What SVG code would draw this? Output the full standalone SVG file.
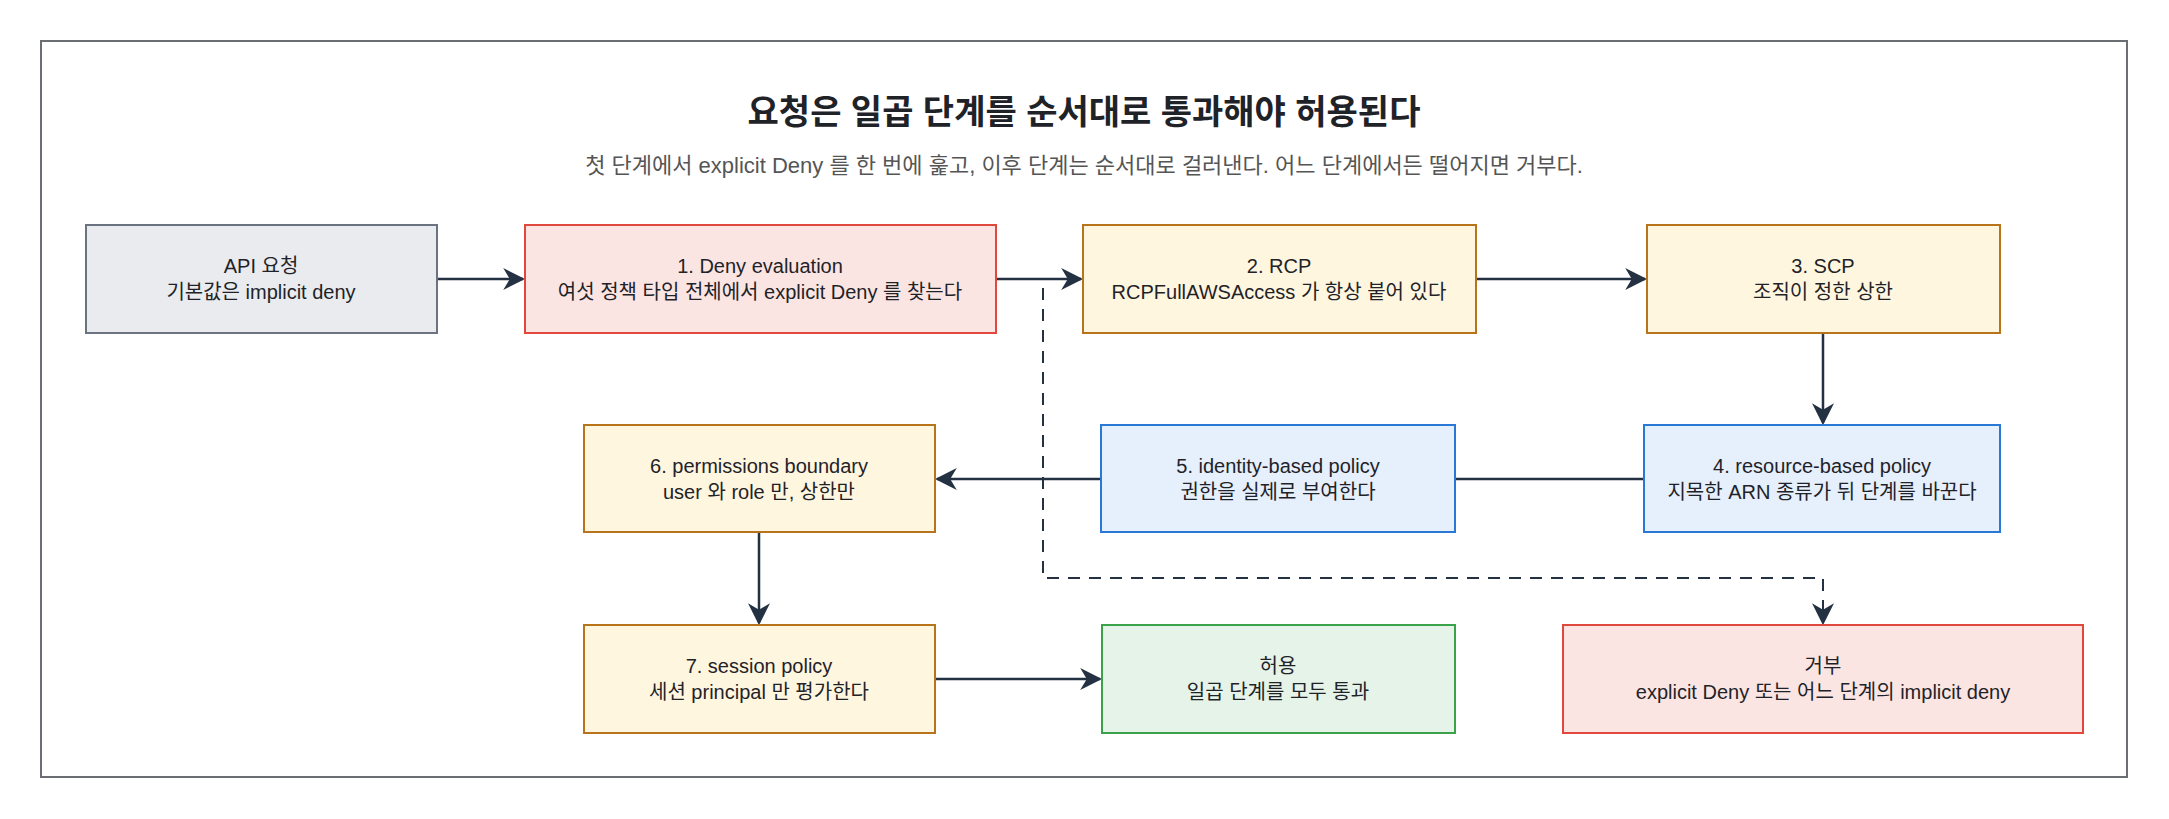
<svg xmlns="http://www.w3.org/2000/svg" width="2169" height="819" viewBox="0 0 2169 819">
<style>
text{font-family:"Liberation Sans","Noto Sans CJK KR",sans-serif;fill:#1f2328;text-anchor:middle}
.t{font-size:20px}
.g rect{fill:#e9ebef;stroke:#6b7280;stroke-width:2}
.r rect{fill:#fbe5e3;stroke:#e0483e;stroke-width:2}
.y rect{fill:#fff6e0;stroke:#b8741a;stroke-width:2}
.b rect{fill:#e6effc;stroke:#2a78d6;stroke-width:2}
.gr rect{fill:#e6f3e8;stroke:#3aa34a;stroke-width:2}
.e{fill:none;stroke:#233142;stroke-width:2.5}
.d{fill:none;stroke:#233142;stroke-width:2;stroke-dasharray:12 9}
</style>
<defs><marker id="a" viewBox="0 0 10 10" refX="9" refY="5" markerWidth="9" markerHeight="9" markerUnits="userSpaceOnUse" orient="auto"><path d="M0 0L10 5L0 10L3 5z" fill="#233142"/></marker>
<marker id="A" viewBox="0 0 10 10" refX="9" refY="5" markerWidth="22" markerHeight="22" markerUnits="userSpaceOnUse" orient="auto"><path d="M0 0L10 5L0 10L3 5z" fill="#233142"/></marker></defs>
<rect x="41" y="41" width="2086" height="736" fill="#fff" stroke="#6b6f73" stroke-width="2"/>
<text x="1084" y="124" font-size="34" font-weight="bold">요청은 일곱 단계를 순서대로 통과해야 허용된다</text>
<text x="1084" y="173" font-size="22" style="fill:#555">첫 단계에서 explicit Deny 를 한 번에 훑고, 이후 단계는 순서대로 걸러낸다. 어느 단계에서든 떨어지면 거부다.</text>
<g id="connectors">
<path class="e" d="M437 279H523" marker-end="url(#A)"/>
<path class="e" d="M996 279H1081" marker-end="url(#A)"/>
<path class="e" d="M1476 279H1645" marker-end="url(#A)"/>
<path class="e" d="M1823 333V423" marker-end="url(#A)"/>
<path class="e" d="M1644 479H937" marker-end="url(#A)"/>
<path class="e" d="M759 532V623" marker-end="url(#A)"/>
<path class="e" d="M935 679H1100" marker-end="url(#A)"/>
<path class="d" d="M1043 288V578H1823V623" marker-end="url(#A)"/>
</g>
<g id="api" class="g"><rect x="86" y="225" width="351" height="108"/><text class="t" x="261" y="273">API 요청</text><text class="t" x="261" y="299">기본값은 implicit deny</text></g>
<g id="s1" class="r"><rect x="525" y="225" width="471" height="108"/><text class="t" x="760" y="273">1. Deny evaluation</text><text class="t" x="760" y="299">여섯 정책 타입 전체에서 explicit Deny 를 찾는다</text></g>
<g id="s2" class="y"><rect x="1083" y="225" width="393" height="108"/><text class="t" x="1279" y="273">2. RCP</text><text class="t" x="1279" y="299">RCPFullAWSAccess 가 항상 붙어 있다</text></g>
<g id="s3" class="y"><rect x="1647" y="225" width="353" height="108"/><text class="t" x="1823" y="273">3. SCP</text><text class="t" x="1823" y="299">조직이 정한 상한</text></g>
<g id="s4" class="b"><rect x="1644" y="425" width="356" height="107"/><text class="t" x="1822" y="473">4. resource-based policy</text><text class="t" x="1822" y="499">지목한 ARN 종류가 뒤 단계를 바꾼다</text></g>
<g id="s5" class="b"><rect x="1101" y="425" width="354" height="107"/><text class="t" x="1278" y="473">5. identity-based policy</text><text class="t" x="1278" y="499">권한을 실제로 부여한다</text></g>
<g id="s6" class="y"><rect x="584" y="425" width="351" height="107"/><text class="t" x="759" y="473">6. permissions boundary</text><text class="t" x="759" y="499">user 와 role 만, 상한만</text></g>
<g id="s7" class="y"><rect x="584" y="625" width="351" height="108"/><text class="t" x="759" y="673">7. session policy</text><text class="t" x="759" y="699">세션 principal 만 평가한다</text></g>
<g id="allow" class="gr"><rect x="1102" y="625" width="353" height="108"/><text class="t" x="1278" y="673">허용</text><text class="t" x="1278" y="699">일곱 단계를 모두 통과</text></g>
<g id="deny" class="r"><rect x="1563" y="625" width="520" height="108"/><text class="t" x="1823" y="673">거부</text><text class="t" x="1823" y="699">explicit Deny 또는 어느 단계의 implicit deny</text></g>
</svg>
